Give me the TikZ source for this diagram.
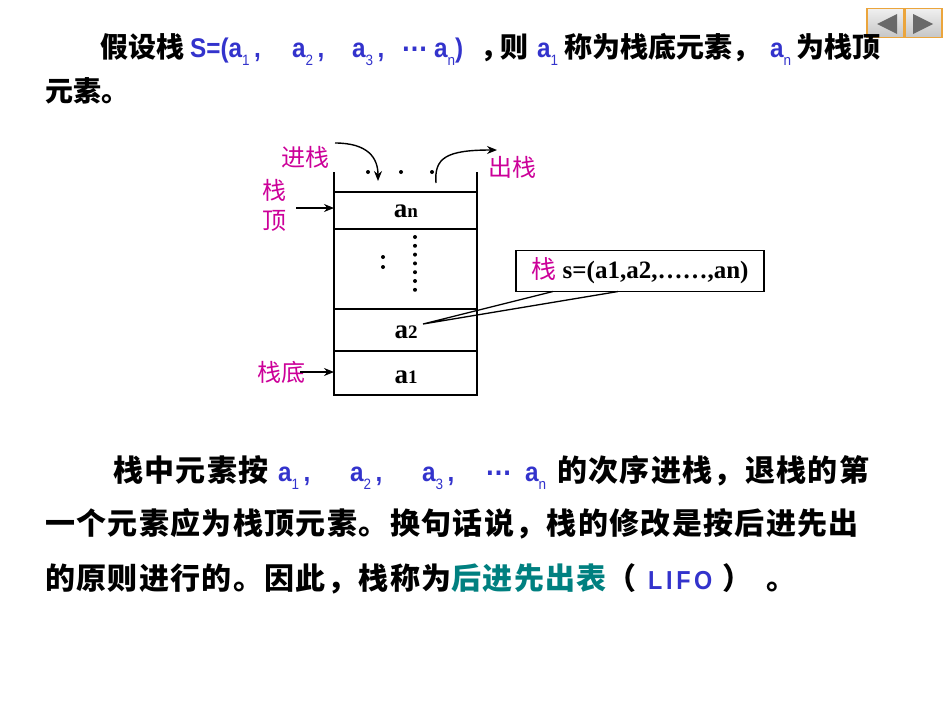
\documentclass[tikz,border=0pt]{standalone}
\usepackage{fontspec}
\usetikzlibrary{arrows.meta}
\newfontfamily\cjk{Noto Sans CJK SC}
\newfontfamily\cjkwide{Noto Sans CJK SC}[LetterSpace=4.5]
\newfontfamily\narrow[FakeStretch=0.9]{Liberation Sans}
\newfontfamily\serifb{Liberation Serif}
\definecolor{txtblue}{RGB}{51,51,204}
\definecolor{labmag}{RGB}{204,0,153}
\definecolor{teal2}{RGB}{0,128,128}
\definecolor{navedge}{RGB}{235,165,60}
\definecolor{navtri}{RGB}{105,105,105}
\newcommand\sbs[1]{\raisebox{-0.3em}{\fontsize{15}{15}\selectfont\mdseries #1}}
\newcommand\dts{\raisebox{0.22em}{\fontsize{30}{30}\selectfont …}}
\tikzset{
  cj/.style={font=\cjk\bfseries\fontsize{28}{28}\selectfont, anchor=base west, inner sep=0pt},
  cjw/.style={font=\cjkwide\bfseries\fontsize{30}{30}\selectfont, anchor=base west, inner sep=0pt},
  bl/.style={text=txtblue, font=\narrow\bfseries\fontsize{27}{27}\selectfont, anchor=base west, inner sep=0pt},
  lab/.style={text=labmag, font=\cjk\fontsize{24}{24}\selectfont, inner sep=0pt},
  celltxt/.style={font=\serifb\bfseries\fontsize{27}{27}\selectfont, inner sep=0pt},
  stk/.style={line width=1.4pt},
  arr/.style={line width=1.4pt, -{Stealth[length=10pt,width=8pt]}},
  navbtn/.style={draw=navedge, line width=1.3pt, top color=gray!12, bottom color=gray!45, minimum width=37pt, minimum height=29pt, inner sep=0pt},
  tri/.style={fill=navtri, draw=none},
  dotf/.style={fill=black, draw=none},
}
\begin{document}
\begin{tikzpicture}[x=1pt,y=-1pt]
\useasboundingbox[fill=white] (0,0) rectangle (950,713);
% nav buttons
\node[navbtn] (navl) at (885.5,23) {};
\node[navbtn] (navr) at (923.5,23) {};
\fill[tri] (877,24) -- (897,14) -- (897,34) -- cycle;
\fill[tri] (913,14) -- (933,24) -- (913,34) -- cycle;
% top text, line 1
\node[cj] (t1a) at (100,57) {假设栈};
\node[bl] (t1b) at (190,57) {S=(a\sbs1\,,};
\node[bl] (t1c) at (292,57) {a\sbs2\,,};
\node[bl] (t1d) at (352,57) {a\sbs3\,,};
\node[bl] (t1e) at (401,57) {\dts};
\node[bl] (t1f) at (434,57) {a\sbs n)};
\node[cj] (t1g) at (480,57) {，};
\node[cj] (t1g2) at (500,57) {则};
\node[bl] (t1h) at (537,57) {a\sbs1};
\node[cj] (t1i) at (564,57) {称为栈底元素，};
\node[bl] (t1j) at (770,57) {a\sbs n};
\node[cj] (t1k) at (796,57) {为栈顶};
\node[cj] (t2) at (45,101) {元素。};
% stack
\draw[stk] (334,172) -- (334,395) -- (477,395) -- (477,172);
\foreach \yy in {192,229,309,351} \draw[stk] (334,\yy) -- (477,\yy);
\node[celltxt] (an) at (406,211) {a{\fontsize{19}{19}\selectfont n}};
\node[celltxt] (a2) at (406,332) {a{\fontsize{19}{19}\selectfont 2}};
\node[celltxt] (a1) at (406,377) {a{\fontsize{19}{19}\selectfont 1}};
\foreach \xx in {368,401,432} \fill[dotf] (\xx,172) circle (2pt);
\fill[dotf] (383,257) circle (2pt);
\fill[dotf] (383,267) circle (2pt);
\foreach \k in {0,...,6} \fill[dotf] (415,237+\k*8.8) circle (2pt);
% labels and arrows
\node[lab] (jin) at (305,157) {进栈};
\node[lab] (chu) at (512,167) {出栈};
\node[lab, align=center, font=\cjk\fontsize{24}{30}\selectfont] (ding) at (274,205) {栈\\顶};
\node[lab] (di) at (281,372) {栈底};
\coordinate (jinS) at (335,143);
\coordinate (jinE) at (378,181);
\coordinate (chuS) at (436,183);
\coordinate (chuE) at (497,150);
\coordinate (dingS) at (296,208);
\coordinate (dingE) at (334,208);
\coordinate (diS) at (300,372);
\coordinate (diE) at (334,372);
\draw[arr] (jinS) .. controls (368,143) and (378,158) .. (jinE);
\draw[arr] (chuS) .. controls (434,158) and (446,150) .. (chuE);
\draw[arr] (dingS) -- (dingE);
\draw[arr] (diS) -- (diE);
% callout
\node[draw, line width=1.3pt, fill=white, minimum width=248pt, minimum height=41pt, inner sep=0pt,
      font=\serifb\bfseries\fontsize{25}{25}\selectfont] (call) at (640,271)
      {{\cjk\mdseries\color{labmag}栈} s=(a1,a2,……,an)};
\coordinate (tip) at (423,324);
\draw[line width=1.3pt] (553,291.5) -- (tip) -- (618,291.5);
% bottom text, line 1
\node[cjw] (b1a) at (113,481) {栈中元素按};
\node[bl] (b1b) at (278,481) {a\sbs1\,,};
\node[bl] (b1c) at (350,481) {a\sbs2\,,};
\node[bl] (b1d) at (422,481) {a\sbs3\,,};
\node[bl] (b1e) at (485,481) {\dts};
\node[bl] (b1f) at (525,481) {a\sbs n};
\node[cjw] (b1g) at (557,481) {的次序进栈，退栈的第};
% lines 2 and 3
\node[cjw] (b2) at (45,534) {一个元素应为栈顶元素。换句话说，栈的修改是按后进先出};
\node[cjw] (b3a) at (45,589) {的原则进行的。因此，栈称为{\color{teal2}后进先出表}（};
\node[bl, font=\narrow\bfseries\fontsize{26}{26}\selectfont\addfontfeature{LetterSpace=14}] (b3b) at (648,589) {LIFO};
\node[cjw] (b3c) at (722,589) {）};
\node[cjw] (b3d) at (766,589) {。};
\end{tikzpicture}
\end{document}
